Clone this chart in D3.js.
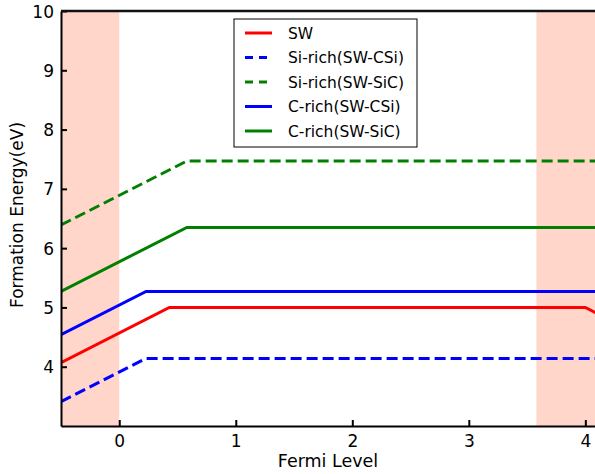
<!doctype html>
<html>
<head>
<meta charset="utf-8">
<title>Formation Energy</title>
<script src="https://d3js.org/d3.v7.min.js"></script>
<style>
  body { margin: 0; background: #fff; }
  text { font-family: "DejaVu Sans", sans-serif; fill: #000; }
</style>
</head>
<body>
<div id="chart"></div>
<script>
// series: kink points (Fermi level, energy)
const seriesNames = ['SW', 'Si-rich(SW-CSi)', 'Si-rich(SW-SiC)', 'C-rich(SW-CSi)', 'C-rich(SW-SiC)'];
const seriesColors = ['#ff0000', '#0000ff', '#008000', '#0000ff', '#008000'];
const seriesDashed = [false, true, true, false, false];
const fermiSW = [-0.5, 0.43, 4.0, 4.1];
const energySW = [4.07, 5.0, 5.0, 4.9];
const fermiSiCSi = [-0.5, 0.23, 4.1];
const energySiCSi = [3.41, 4.14, 4.14];
const fermiSiSiC = [-0.5, 0.58, 4.1];
const energySiSiC = [6.39, 7.47, 7.47];
const fermiCCSi = [-0.5, 0.23, 4.1];
const energyCCSi = [4.54, 5.27, 5.27];
const fermiCSiC = [-0.5, 0.58, 4.1];
const energyCSiC = [5.27, 6.35, 6.35];
const allFermi = [fermiSW, fermiSiCSi, fermiSiSiC, fermiCCSi, fermiCSiC];
const allEnergy = [energySW, energySiCSi, energySiSiC, energyCCSi, energyCSiC];
// shaded bands outside the gap
const bands = [[-0.5, 0], [3.58, 4.1]];
const xTicks = [0, 1, 2, 3, 4];
const yTicks = [4, 5, 6, 7, 8, 9, 10];

const W = 595, H = 474;
const margin = { top: 11, right: 0, bottom: 48, left: 61 };
const width = W - margin.left - margin.right;
const height = H - margin.top - margin.bottom;

const x = d3.scaleLinear().domain([-0.5, 4.083]).range([0, width]);
const y = d3.scaleLinear().domain([3, 10]).range([height, 0]);

const svg = d3.select('#chart').append('svg')
  .attr('width', W).attr('height', H);

svg.append('defs').append('clipPath').attr('id', 'clip')
  .append('rect').attr('width', width).attr('height', height);

const g = svg.append('g')
  .attr('transform', 'translate(' + margin.left + ',' + margin.top + ')');

g.selectAll('.band').data(bands).enter().append('rect')
  .attr('class', 'band')
  .attr('clip-path', 'url(#clip)')
  .attr('x', d => x(d[0]))
  .attr('width', d => x(d[1]) - x(d[0]))
  .attr('y', 0).attr('height', height)
  .attr('fill', '#ffd6c9');

const line = d3.line().x(d => x(d[0])).y(d => y(d[1]));

const lines = g.append('g').attr('clip-path', 'url(#clip)');
seriesNames.forEach((name, i) => {
  const pts = allFermi[i].map((f, j) => [f, allEnergy[i][j]]);
  lines.append('path')
    .datum(pts)
    .attr('fill', 'none')
    .attr('stroke', seriesColors[i])
    .attr('stroke-width', 3)
    .attr('stroke-dasharray', seriesDashed[i] ? '11,5' : null)
    .attr('d', line);
});

// axes: inward ticks, no right spine
const xAxis = g.append('g')
  .attr('transform', 'translate(0,' + height + ')')
  .call(d3.axisBottom(x).tickValues(xTicks).tickSizeInner(-6).tickSizeOuter(0).tickPadding(9).tickFormat(d3.format('d')));
const yAxis = g.append('g')
  .call(d3.axisLeft(y).tickValues(yTicks).tickSizeInner(-6).tickSizeOuter(0).tickPadding(7).tickFormat(d3.format('d')));
[xAxis, yAxis].forEach(a => {
  a.select('.domain').attr('stroke', '#000').attr('stroke-width', 2);
  a.selectAll('.tick line').attr('stroke', '#000').attr('stroke-width', 2);
  a.selectAll('.tick text').style('font-size', '17px').style('font-family', '"DejaVu Sans", sans-serif');
});
yAxis.selectAll('.tick text').attr('dy', '0.36em');

g.append('line')
  .attr('x1', 0).attr('x2', width).attr('y1', 0).attr('y2', 0)
  .attr('stroke', '#111').attr('stroke-width', 2.5);

svg.append('text')
  .attr('x', 328).attr('y', 467)
  .attr('text-anchor', 'middle')
  .style('font-size', '17.5px')
  .text('Fermi Level');

svg.append('text')
  .attr('transform', 'translate(23,215) rotate(-90)')
  .attr('text-anchor', 'middle')
  .style('font-size', '17px')
  .text('Formation Energy(eV)');

// legend
const legend = svg.append('g').attr('transform', 'translate(234,19)');
legend.append('rect')
  .attr('width', 183).attr('height', 128)
  .attr('fill', '#fff').attr('stroke', '#000').attr('stroke-width', 1);
seriesNames.forEach((name, i) => {
  const ly = 14 + i * 24.5;
  legend.append('line')
    .attr('x1', 11).attr('x2', 38).attr('y1', ly).attr('y2', ly)
    .attr('stroke', seriesColors[i]).attr('stroke-width', 3)
    .attr('stroke-dasharray', seriesDashed[i] ? '8,6' : null);
  legend.append('text')
    .attr('x', 54).attr('y', ly + 5.5)
    .style('font-size', '15.5px')
    .text(name);
});
</script>
</body>
</html>
